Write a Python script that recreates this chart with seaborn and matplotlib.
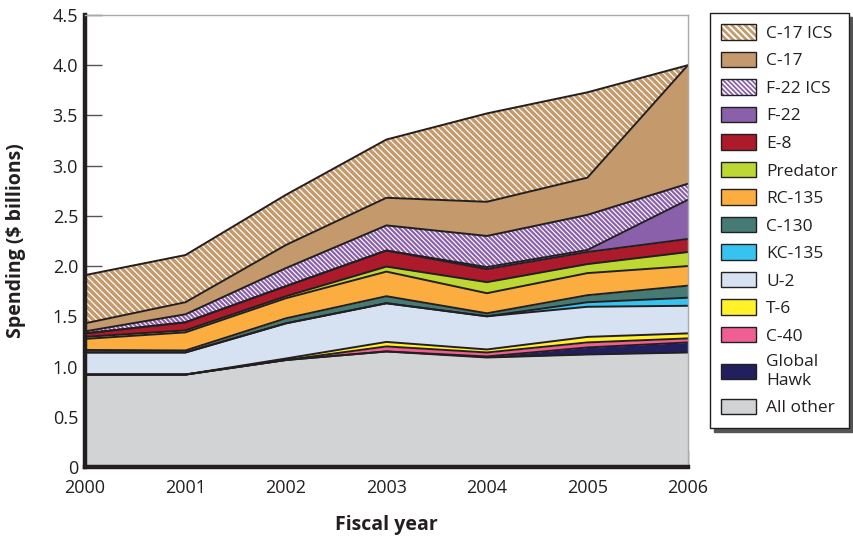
import matplotlib
matplotlib.use('Agg')
import matplotlib.pyplot as plt
import seaborn as sns
from matplotlib.patches import Patch, Rectangle
from matplotlib.legend_handler import HandlerTuple, HandlerPatch

# Fiscal years on the x axis
years = [2000, 2001, 2002, 2003, 2004, 2005, 2006]

# Spending per program, $ billions
all_other = [0.92, 0.92, 1.065, 1.15, 1.09, 1.12, 1.14]
global_hawk = [0, 0, 0, 0, 0.01, 0.07, 0.10]
c40 = [0, 0, 0, 0.05, 0.04, 0.05, 0.04]
t6 = [0, 0, 0.015, 0.045, 0.03, 0.055, 0.05]
u2 = [0.22, 0.22, 0.35, 0.385, 0.33, 0.30, 0.275]
kc135 = [0, 0, 0, 0, 0, 0.045, 0.08]
c130 = [0.025, 0.02, 0.05, 0.07, 0.03, 0.07, 0.12]
rc135 = [0.11, 0.18, 0.20, 0.245, 0.20, 0.22, 0.195]
predator = [0.02, 0.02, 0.02, 0.05, 0.11, 0.09, 0.14]
e8 = [0.035, 0.08, 0.10, 0.16, 0.13, 0.12, 0.13]
f22 = [0, 0, 0, 0, 0.02, 0.02, 0.39]
f22_ics = [0.02, 0.08, 0.18, 0.25, 0.31, 0.35, 0.16]
c17 = [0.08, 0.12, 0.23, 0.275, 0.34, 0.37, 1.18]
c17_ics = [0.48, 0.47, 0.50, 0.58, 0.88, 0.85, 0]

# bottom to top
series = [all_other, global_hawk, c40, t6, u2, kc135, c130, rc135,
          predator, e8, f22, f22_ics, c17, c17_ics]
labels = ['All other', 'Global\nHawk', 'C-40', 'T-6', 'U-2', 'KC-135', 'C-130',
          'RC-135', 'Predator', 'E-8', 'F-22', 'F-22 ICS', 'C-17', 'C-17 ICS']
colors = ['#d1d3d4', '#221f5f', '#ef5f93', '#fff12a', '#d6e2f1', '#36c3ef',
          '#467a74', '#fbad3f', '#bdd733', '#ac1a2c', '#8a60aa', '#8a60aa',
          '#c49a6c', '#c49a6c']
hatches = [None] * 11 + ['\\' * 7, None, '\\' * 5]
hatch_lw = {'\\' * 7: 1.6, '\\' * 5: 2.5}

y_ticks = [0, 0.5, 1.0, 1.5, 2.0, 2.5, 3.0, 3.5, 4.0, 4.5]
y_labels = ['0', '0.5', '1.0', '1.5', '2.0', '2.5', '3.0', '3.5', '4.0', '4.5']

sns.set_style('ticks')
plt.rcParams['font.family'] = ['Open Sans', 'DejaVu Sans']
plt.rcParams['hatch.linewidth'] = 2.0
ink = '#231f20'


def set_hlw(artist, lw):
    if hasattr(artist, 'set_hatch_linewidth'):
        artist.set_hatch_linewidth(lw)


def legend_patch(legend, orig_handle, xdescent, ydescent, width, height, fontsize):
    p = Rectangle((-xdescent, -ydescent), width, height)
    h = orig_handle.get_hatch()
    if h in hatch_lw:
        set_hlw(p, hatch_lw[h] * 0.8)
    return p


fig = plt.figure(figsize=(8.54, 5.37), dpi=100)
ax = fig.add_axes([0.0995, 0.1304, 0.706, 0.8417])

# stacked areas
lower = [0] * len(years)
tops = []
for vals, col, h in zip(series, colors, hatches):
    upper = [a + b for a, b in zip(lower, vals)]
    if h:
        plt.rcParams['hatch.linewidth'] = hatch_lw[h]
        pc = ax.fill_between(years, lower, upper, facecolor='white', edgecolor=col,
                             hatch=h, linewidth=0)
        set_hlw(pc, hatch_lw[h])
    else:
        ax.fill_between(years, lower, upper, facecolor=col, linewidth=0)
    tops.append(upper)
    lower = upper

# outlines of every layer
for upper in tops:
    sns.lineplot(x=years, y=upper, color=ink, linewidth=1.4, ax=ax)

ax.set_xlim(2000, 2006)
ax.set_ylim(0, 4.5)
ax.set_xticks(years)
ax.set_xticklabels([str(y) for y in years])
ax.set_yticks(y_ticks)
ax.set_yticklabels(y_labels)
ax.tick_params(axis='both', direction='in', length=12, width=1, color='#555555',
               labelsize=13, labelcolor=ink)
ax.tick_params(axis='y', pad=5)
ax.tick_params(axis='x', pad=9)

for s in ['left', 'bottom']:
    ax.spines[s].set_linewidth(3.2)
    ax.spines[s].set_color(ink)
for s in ['top', 'right']:
    ax.spines[s].set_linewidth(1)
    ax.spines[s].set_color('#aaaaaa')

ax.set_xlabel('Fiscal year', fontsize=14, fontweight='bold', color=ink)
ax.set_ylabel(r'Spending (\$ billions)', fontsize=14, fontweight='bold', color=ink)
ax.xaxis.set_label_coords(0.5, -0.106)
ax.yaxis.set_label_coords(-0.097, 0.5)

# legend, top entry first
handles = []
for col, h in zip(colors[::-1], hatches[::-1]):
    if h:
        p = Patch(facecolor='white', edgecolor=col, hatch=h, linewidth=0)
        handles.append((p, Patch(facecolor='none', edgecolor=ink, linewidth=1)))
    else:
        handles.append(Patch(facecolor=col, edgecolor=ink, linewidth=1))
leg = ax.legend(handles, labels[::-1], loc='upper left',
                bbox_to_anchor=(0.831, 0.976), bbox_transform=fig.transFigure,
                borderaxespad=0, fontsize=12.5, handlelength=2.0, handleheight=1.0,
                labelspacing=0.565, handletextpad=0.6, borderpad=0.65,
                frameon=True, fancybox=False, framealpha=1, edgecolor=ink,
                shadow={'ox': 3, 'oy': -3, 'color': '#555555', 'alpha': 1},
                handler_map={tuple: HandlerTuple(ndivide=1, pad=0),
                             Patch: HandlerPatch(patch_func=legend_patch)})
leg.get_frame().set_linewidth(1)
for t in leg.get_texts():
    t.set_color(ink)

plt.rcParams['hatch.linewidth'] = 2.0
fig.savefig('out.png', dpi=100)
